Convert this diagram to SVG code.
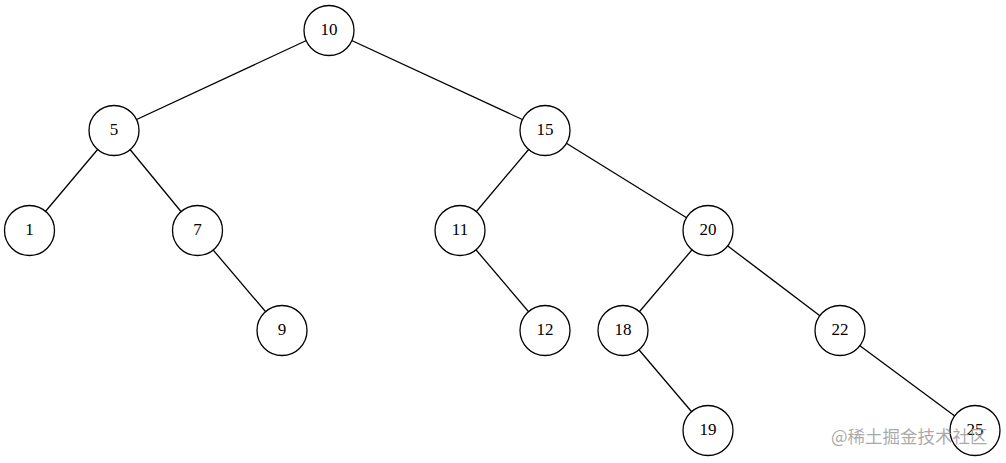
<svg xmlns="http://www.w3.org/2000/svg" width="1006" height="463" viewBox="0 0 1006 463">
<style>
.n circle{fill:#fff;stroke:#000;stroke-width:1.3}
.n text{font-family:"Liberation Serif",serif;font-size:17px;text-anchor:middle;dominant-baseline:central;fill:#000}
.e line{stroke:#000;stroke-width:1.3}
.wm{font-family:"Noto Sans CJK SC","Noto Sans",sans-serif;font-size:17.5px;fill:#9a9a9a;fill-opacity:0.85}
</style>
<rect width="1006" height="463" fill="#fff"/>
<g id="edges" class="e">
<line x1="329" y1="30" x2="114" y2="130"/>
<line x1="329" y1="30" x2="545" y2="130"/>
<line x1="114" y1="130" x2="29" y2="231"/>
<line x1="114" y1="130" x2="197" y2="231"/>
<line x1="197" y1="231" x2="282" y2="331"/>
<line x1="545" y1="130" x2="460" y2="231"/>
<line x1="545" y1="130" x2="708" y2="231"/>
<line x1="460" y1="231" x2="545" y2="331"/>
<line x1="708" y1="231" x2="623" y2="331"/>
<line x1="708" y1="231" x2="840" y2="331"/>
<line x1="623" y1="331" x2="708" y2="431"/>
<line x1="840" y1="331" x2="975" y2="431"/>
</g>
<g id="n10" class="n"><circle cx="329" cy="30.5" r="25"/><text x="329" y="29.5">10</text></g>
<g id="n5" class="n"><circle cx="114" cy="130.5" r="25"/><text x="114" y="129.5">5</text></g>
<g id="n15" class="n"><circle cx="545" cy="130.5" r="25"/><text x="545" y="129.5">15</text></g>
<g id="n1" class="n"><circle cx="29.5" cy="230.5" r="25"/><text x="29.5" y="229.5">1</text></g>
<g id="n7" class="n"><circle cx="197.5" cy="230.5" r="25"/><text x="197.5" y="229.5">7</text></g>
<g id="n11" class="n"><circle cx="460" cy="230.5" r="25"/><text x="460" y="229.5">11</text></g>
<g id="n20" class="n"><circle cx="708" cy="230.5" r="25"/><text x="708" y="229.5">20</text></g>
<g id="n9" class="n"><circle cx="282" cy="330.5" r="25"/><text x="282" y="329.5">9</text></g>
<g id="n12" class="n"><circle cx="545" cy="330.5" r="25"/><text x="545" y="329.5">12</text></g>
<g id="n18" class="n"><circle cx="623" cy="330.5" r="25"/><text x="623" y="329.5">18</text></g>
<g id="n22" class="n"><circle cx="840" cy="330.5" r="25"/><text x="840" y="329.5">22</text></g>
<g id="n19" class="n"><circle cx="708" cy="430.5" r="25"/><text x="708" y="429.5">19</text></g>
<g id="n25" class="n"><circle cx="975" cy="430.5" r="25"/><text x="975" y="429.5">25</text></g>
<text class="wm" x="831" y="443">@稀土掘金技术社区</text>
</svg>
